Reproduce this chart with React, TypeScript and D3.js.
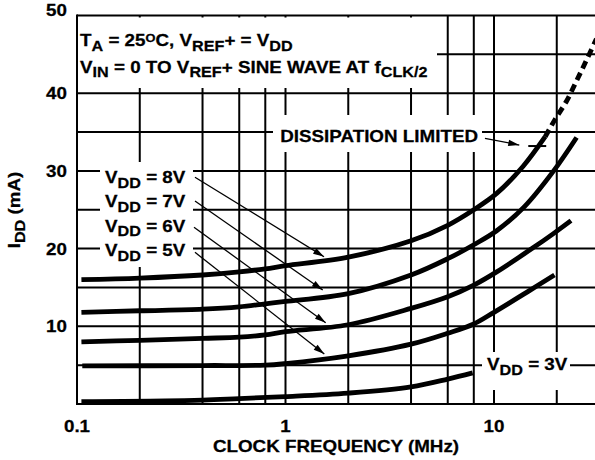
import * as d3 from 'd3';

// Supply current vs clock frequency (MHz, mA)
const vdd8: [number, number][] = [[0.105, 16.0], [0.2, 16.2], [0.4, 16.6], [0.6, 17.0], [0.8, 17.4], [1, 17.8], [2, 18.9], [4, 21.0], [6, 23.0], [8, 25.0], [10.3, 27.1], [13.8, 30.6], [17.6, 34.4]];
const vdd8Limited: [number, number][] = [[17.6, 34.4], [19.6, 36.6], [22.3, 39.0], [24.9, 41.6], [27.6, 44.1], [31, 47.0]];
const vdd7: [number, number][] = [[0.105, 11.8], [0.2, 12.0], [0.4, 12.2], [0.6, 12.5], [0.8, 12.9], [1, 13.2], [2, 14.2], [4, 16.6], [6, 18.7], [8, 20.5], [10.3, 22.3], [14, 25.4], [19.2, 29.9], [24.9, 34.3]];
const vdd6: [number, number][] = [[0.105, 8.0], [0.2, 8.2], [0.4, 8.45], [0.6, 8.6], [0.8, 8.9], [1, 9.3], [2, 10.2], [4, 12.3], [6, 13.8], [8, 15.3], [10.3, 17.0], [15.2, 20.0], [19.2, 21.9], [23.4, 23.6]];
const vdd5: [number, number][] = [[0.106, 4.9], [0.4, 4.95], [0.8, 5.0], [1, 5.2], [2, 6.2], [4, 7.7], [6, 9.1], [8, 10.3], [10, 11.8], [14.6, 14.5], [19.5, 16.6]];
const vdd3: [number, number][] = [[0.105, 0.3], [0.4, 0.5], [0.6, 0.7], [1, 0.95], [2, 1.4], [4, 2.2], [6, 3.2], [7.9, 4.0]];

const xGrid = [0.2, 0.4, 0.6, 0.8, 1, 2, 4, 6, 8, 10, 20];
const yGrid = [5, 10, 15, 20, 25, 30, 35, 40, 45];
const xTicks = [0.1, 1, 10];
const yTicks = [10, 20, 30, 40, 50];

// annotation leaders: label end -> curve
const leaderFrom: [number, number][] = [[0.368, 29.18], [0.368, 26.13], [0.364, 22.74], [0.368, 19.52]];
const leaderTo: [number, number][] = [[1.53, 18.96], [1.508, 14.67], [1.559, 10.46], [1.535, 6.44]];
const vddLabels = ['V_{DD} = 8V', 'V_{DD} = 7V', 'V_{DD} = 6V', 'V_{DD} = 5V'];
const dissArrow: [number, number][] = [[9.05, 34.2], [13.22, 33.33]];
const dissMark: [number, number][] = [[14.6, 33.2], [17.8, 33.2]];

const FONT = '"Liberation Sans", Arial, Helvetica, sans-serif';
const FS = 16.5;
const SX = 1.14;

const W = 595, H = 460;
const left = 77, right = 595, top = 15.5, bottom = 404;

const x = d3.scaleLog().domain([0.1, 10]).range([left, 494]);
const y = d3.scaleLinear().domain([0, 50]).range([bottom, top]);

const line = d3.line<[number, number]>()
  .x(d => x(d[0]))
  .y(d => y(d[1]))
  .curve(d3.curveCatmullRom.alpha(0.5));

// "V_{DD}" -> subscript, "25^{O}" -> superscript
function parse(s: string) {
  const parts: { t: string; k: number }[] = [];
  const re = /([_^])\{([^}]*)\}|([^_^]+)/g;
  let m: RegExpExecArray | null;
  while ((m = re.exec(s))) {
    if (m[3]) parts.push({ t: m[3], k: 0 });
    else parts.push({ t: m[2], k: m[1] === '_' ? 1 : -1 });
  }
  return parts;
}

function Rich({ px, py, s, anchor = 'start', rotate = 0 }: { px: number; py: number; s: string; anchor?: string; rotate?: number }) {
  let cur = 0;
  return (
    <g transform={`translate(${px},${py}) rotate(${rotate}) scale(${SX},1)`}>
      <text textAnchor={anchor} fontFamily={FONT} fontWeight="bold" fontSize={FS} fill="#000"
        stroke="#000" strokeWidth={0.25} style={{ whiteSpace: 'pre' }}>
        {parse(s).map((p, i) => {
          const off = p.k === 1 ? 4.5 : p.k === -1 ? -4.5 : 0;
          const dy = off - cur;
          cur = off;
          const fs = p.k === 1 ? FS * 0.86 : p.k === -1 ? FS * 0.68 : FS;
          return <tspan key={i} dy={dy} fontSize={fs}>{p.t}</tspan>;
        })}
      </text>
    </g>
  );
}

function arrowHead(a: [number, number], b: [number, number], len = 11, w = 3.2) {
  const x1 = x(a[0]), y1 = y(a[1]), x2 = x(b[0]), y2 = y(b[1]);
  const ang = Math.atan2(y2 - y1, x2 - x1);
  const bx = x2 - len * Math.cos(ang), by = y2 - len * Math.sin(ang);
  const nx = -Math.sin(ang) * w, ny = Math.cos(ang) * w;
  return `${x2},${y2} ${bx + nx},${by + ny} ${bx - nx},${by - ny}`;
}

export default function App() {
  const curves = [vdd8, vdd7, vdd6, vdd5, vdd3];
  return (
    <svg width={W} height={H} style={{ position: 'absolute', left: 0, top: 0, background: '#fff' }}>
      <defs>
        <clipPath id="plot"><rect x={left} y={top - 2} width={right - left} height={bottom - top + 4} /></clipPath>
      </defs>
      <rect x={0} y={0} width={W} height={H} fill="#fff" />

      {/* grid */}
      <g stroke="#000" strokeWidth={2}>
        {xGrid.map(v => <line key={'x' + v} x1={x(v)} x2={x(v)} y1={top} y2={bottom} />)}
        {yGrid.map(v => <line key={'y' + v} x1={left} x2={right} y1={y(v)} y2={y(v)} />)}
      </g>

      {/* white backing behind annotation text */}
      <g fill="#fff">
        <rect x={78} y={17.5} width={359} height={70.5} />
        <rect x={273} y={115} width={209} height={37} />
        <rect x={100} y={162} width={93} height={105} />
        <rect x={482} y={352} width={88} height={38} />
      </g>

      {/* frame */}
      <g stroke="#000" strokeWidth={2} fill="none">
        <line x1={left} x2={right} y1={top} y2={top} />
        <line x1={left} x2={right} y1={bottom} y2={bottom} />
        <line x1={left} x2={left} y1={top - 1} y2={bottom + 1} />
      </g>

      {/* curves */}
      <g clipPath="url(#plot)" fill="none" stroke="#000" strokeWidth={4.8}>
        {curves.map((c, i) => <path key={i} d={line(c) ?? ''} />)}
        <path d={line(vdd8Limited) ?? ''} strokeDasharray="8,5" />
      </g>

      {/* leaders */}
      <g stroke="#000" strokeWidth={1.3}>
        {leaderFrom.map((a, i) => (
          <g key={i}>
            <line x1={x(a[0])} y1={y(a[1])} x2={x(leaderTo[i][0])} y2={y(leaderTo[i][1])} />
            <polygon points={arrowHead(a, leaderTo[i])} fill="#000" stroke="none" />
          </g>
        ))}
        <line x1={x(dissArrow[0][0])} y1={y(dissArrow[0][1])} x2={x(dissArrow[1][0])} y2={y(dissArrow[1][1])} />
        <polygon points={arrowHead(dissArrow[0], dissArrow[1])} fill="#000" stroke="none" />
        <line x1={x(dissMark[0][0])} y1={y(dissMark[0][1])} x2={x(dissMark[1][0])} y2={y(dissMark[1][1])} strokeWidth={2} />
      </g>

      {/* annotation text */}
      <Rich px={80} py={46} s={'T_{A} = 25^{O}C, V_{REF}+ = V_{DD}'} />
      <Rich px={80} py={72.5} s={'V_{IN} = 0 TO V_{REF}+ SINE WAVE AT f_{CLK/2}'} />
      <Rich px={478} py={141.5} s={'DISSIPATION LIMITED'} anchor="end" />
      {vddLabels.map((s, i) => <Rich key={s} px={105} py={183 + i * 24.4} s={s} />)}
      <Rich px={487} py={370} s={'V_{DD} = 3V'} />

      {/* tick labels */}
      {yTicks.map(v => <Rich key={'yt' + v} px={67} py={v === 50 ? y(v) : y(v) + 6} s={String(v)} anchor="end" />)}
      {xTicks.map(v => <Rich key={'xt' + v} px={x(v)} py={432} s={String(v)} anchor="middle" />)}

      {/* axis titles */}
      <Rich px={336} py={452} s={'CLOCK FREQUENCY (MHz)'} anchor="middle" />
      <Rich px={20} py={210} s={'I_{DD} (mA)'} anchor="middle" rotate={-90} />
    </svg>
  );
}
